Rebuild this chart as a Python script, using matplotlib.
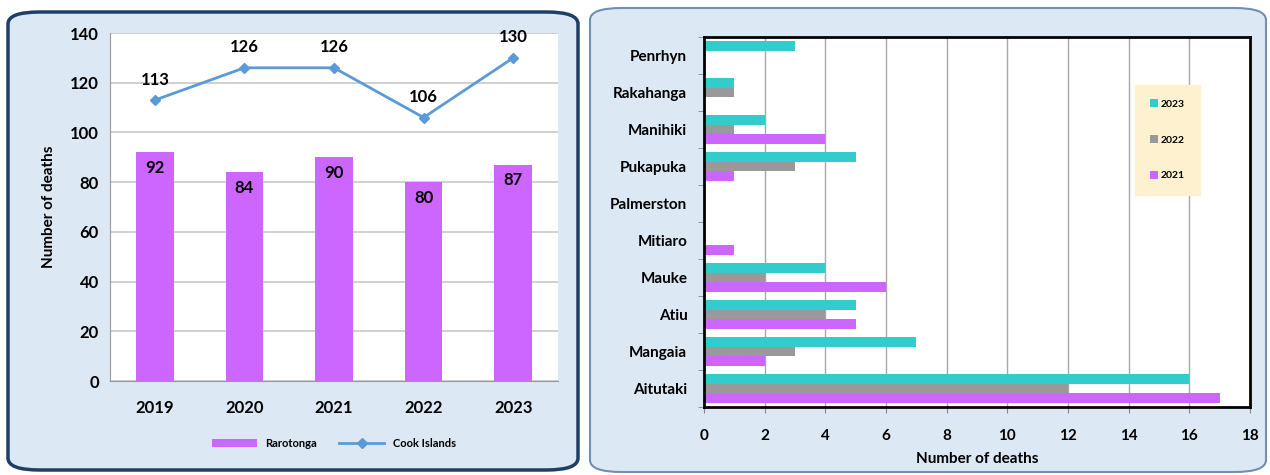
import numpy as np
import matplotlib
matplotlib.use("Agg")
import matplotlib.pyplot as plt
from matplotlib.patches import FancyBboxPatch

plt.rcParams["font.family"] = ["Lato", "DejaVu Sans"]
plt.rcParams["font.weight"] = "bold"

# left chart data
years = ["2019", "2020", "2021", "2022", "2023"]
rarotonga = [92, 84, 90, 80, 87]
cook_islands = [113, 126, 126, 106, 130]

# right chart data
islands = ["Aitutaki", "Mangaia", "Atiu", "Mauke", "Mitiaro",
           "Palmerston", "Pukapuka", "Manihiki", "Rakahanga", "Penrhyn"]
deaths_2023 = [16, 7, 5, 4, 0, 0, 5, 2, 1, 3]
deaths_2022 = [12, 3, 4, 2, 0, 0, 3, 1, 1, 0]
deaths_2021 = [17, 2, 5, 6, 1, 0, 1, 4, 0, 0]

violet = "#cc66ff"
blue = "#5b9bd5"
cyan = "#33cccc"
grey = "#999999"
panel_bg = "#dce8f4"

fig = plt.figure(figsize=(12.7, 4.75), dpi=100)
W, H = 1270, 475

# panel boxes
def panel(x0, y0, x1, y1, edge, lw):
    box = FancyBboxPatch((x0 / W, 1 - y1 / H), (x1 - x0) / W, (y1 - y0) / H,
                         boxstyle="round,pad=0,rounding_size=0.025",
                         transform=fig.transFigure, facecolor=panel_bg,
                         edgecolor=edge, linewidth=lw, zorder=0)
    fig.patches.append(box)

panel(8, 12, 578, 470, "#1f3f66", 2.5)
panel(590, 8, 1266, 472, "#6f8fb3", 1.5)

# left chart
ax1 = fig.add_axes([110 / W, 1 - 381 / H, (558 - 110) / W, (381 - 33) / H])
ax1.set_zorder(2)
x = np.arange(len(years))
bars = ax1.bar(x, rarotonga, width=0.42, color=violet, zorder=2, label="Rarotonga")
line, = ax1.plot(x, cook_islands, color=blue, marker="D", markersize=5, linewidth=2,
                 zorder=3, label="Cook Islands")
for xi, v in zip(x, rarotonga):
    ax1.text(xi, v - 3, str(v), ha="center", va="top", fontsize=12, fontweight="bold")
for xi, v in zip(x, cook_islands):
    ax1.text(xi, v + 5, str(v), ha="center", va="bottom", fontsize=12, fontweight="bold")
ax1.set_ylim(0, 140)
ax1.set_xlim(-0.5, 4.5)
ax1.set_yticks(range(0, 141, 20))
ax1.set_xticks(x)
ax1.set_xticklabels(years)
ax1.grid(axis="y", color="#c8c8c8", linewidth=1.2, zorder=0)
ax1.set_axisbelow(True)
for s in ["top", "right"]:
    ax1.spines[s].set_visible(False)
ax1.spines["left"].set_color("#999999")
ax1.spines["bottom"].set_color("#999999")
ax1.tick_params(axis="y", length=0, labelsize=12, pad=8)
ax1.tick_params(axis="x", length=0, labelsize=12, pad=14)
ax1.set_ylabel("Number of deaths", fontsize=11, fontweight="bold", labelpad=10)
ax1.legend([bars, line], ["Rarotonga", "Cook Islands"], loc="upper center",
           bbox_to_anchor=(0.5, -0.135), ncol=2, frameon=False,
           fontsize=8, handlelength=4, columnspacing=2)

# right chart
ax2 = fig.add_axes([704 / W, 1 - 407 / H, (1250 - 704) / W, (407 - 37) / H])
ax2.set_zorder(2)
y = np.arange(len(islands))
h = 0.26
ax2.barh(y + h, deaths_2023, height=h, color=cyan, label="2023", zorder=2)
ax2.barh(y, deaths_2022, height=h, color=grey, label="2022", zorder=2)
ax2.barh(y - h, deaths_2021, height=h, color=violet, label="2021", zorder=2)
ax2.set_xlim(0, 18)
ax2.set_ylim(-0.5, len(islands) - 0.5)
ax2.set_xticks(range(0, 19, 2))
ax2.set_yticks(y)
ax2.set_yticklabels(islands)
ax2.set_yticks(np.arange(-0.5, len(islands), 1), minor=True)
ax2.grid(axis="x", color="#a8a8a8", linewidth=1, zorder=0)
ax2.set_axisbelow(True)
for s in ax2.spines.values():
    s.set_linewidth(2)
    s.set_color("black")
ax2.tick_params(axis="y", which="major", length=0, labelsize=11, pad=12)
ax2.tick_params(axis="y", which="minor", length=4, color="#888888")
ax2.tick_params(axis="x", length=4, color="#888888", labelsize=11, pad=12)
ax2.set_xlabel("Number of deaths", fontsize=11, fontweight="bold", labelpad=6)
leg = ax2.legend(loc="upper left", bbox_to_anchor=(0.78, 0.885), frameon=True,
                 fontsize=7.5, handlelength=0.8, handleheight=0.8, labelspacing=2.5,
                 borderpad=1.4, handletextpad=0.3, fancybox=False)
leg.get_frame().set_facecolor("#fdf1d0")
leg.get_frame().set_edgecolor("#fdf1d0")
leg.get_frame().set_alpha(1)

fig.savefig("out.png", dpi=100)
